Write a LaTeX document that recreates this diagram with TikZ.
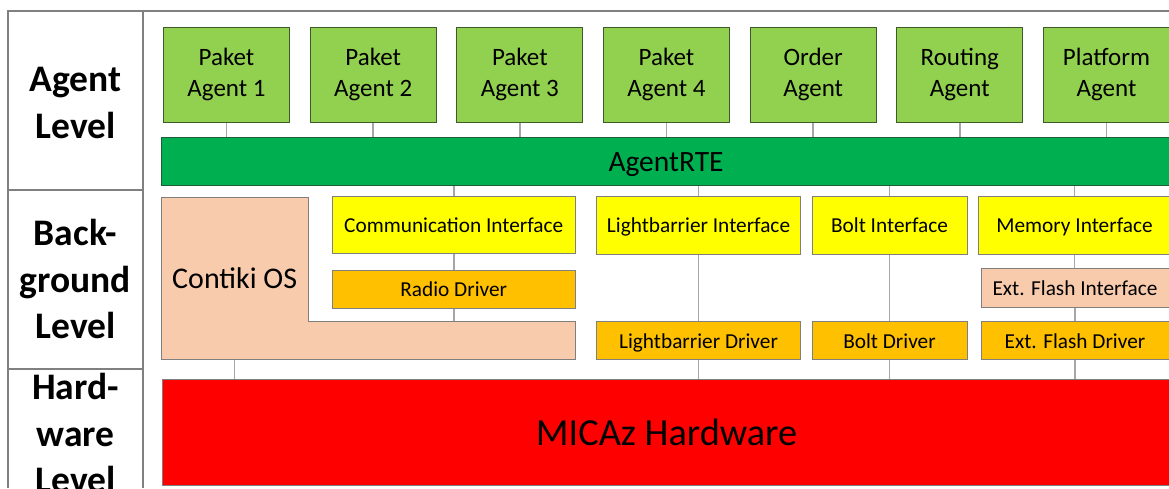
\documentclass[tikz,border=0pt]{standalone}
\usepackage{fontspec}
\setmainfont{Carlito}
\definecolor{agentgreen}{HTML}{92D050}
\definecolor{agentborder}{HTML}{3F5A2A}
\definecolor{rtegreen}{HTML}{00B050}
\definecolor{rteborder}{HTML}{1F5C3A}
\definecolor{ifyellow}{HTML}{FFFF00}
\definecolor{drvorange}{HTML}{FFC000}
\definecolor{peach}{HTML}{F8CBAD}
\definecolor{hwred}{HTML}{FF0000}
\definecolor{boxborder}{HTML}{7F7F7F}
\definecolor{conngray}{HTML}{A6A6A6}
\definecolor{tablegray}{HTML}{808080}
\begin{document}
\begin{tikzpicture}[x=1pt,y=-1pt,
  agent/.style={draw=agentborder, fill=agentgreen, line width=1pt, anchor=north west,
    minimum width=126pt, minimum height=95pt, inner sep=0pt, align=center,
    font=\fontsize{25}{31}\selectfont},
  plainbox/.style={draw=boxborder, line width=1pt, anchor=north west, inner sep=0pt,
    text height=15.3pt, text depth=0.5pt,
    font=\fontsize{21.3}{26}\selectfont},
  iface/.style={plainbox, fill=ifyellow, minimum height=58pt},
  drv/.style={plainbox, fill=drvorange, minimum height=38pt},
  conn/.style={draw=conngray, line width=1.5pt},
  tableline/.style={draw=tablegray, line width=1.5pt},
  levellabel/.style={font=\bfseries\fontsize{37.5}{46.5}\selectfont, align=center}
]
\useasboundingbox (0,0) rectangle (1169,488);
\clip (0,0) rectangle (1169,488);

% left table
\draw[tableline] (8,488) -- (8,11) -- (1169,11);
\draw[tableline] (143,11) -- (143,488);
\draw[tableline] (8,190) -- (143,190);
\draw[tableline] (8,369) -- (143,369);
\node[levellabel] (lagent) at (75.5,103) {Agent\\Level};
\node[levellabel] (lback) at (75.5,279) {Back-\\ground\\Level};
\node[levellabel] (lhw) at (75.5,433) {Hard-\\ware\\Level};

% agents
\node[agent] (a1) at (163,27) {Paket\strut\\Agent 1\strut};
\node[agent] (a2) at (309.7,27) {Paket\strut\\Agent 2\strut};
\node[agent] (a3) at (456.3,27) {Paket\strut\\Agent 3\strut};
\node[agent] (a4) at (603,27) {Paket\strut\\Agent 4\strut};
\node[agent] (a5) at (749.7,27) {Order\strut\\Agent\strut};
\node[agent] (a6) at (896.3,27) {Routing\strut\\Agent\strut};
\node[agent] (a7) at (1043,27) {Platform\strut\\Agent\strut};

% AgentRTE
\node[draw=rteborder, fill=rtegreen, line width=1pt, anchor=north west, inner sep=0pt,
  minimum width=1009pt, minimum height=48pt, text height=21pt, text depth=0.7pt,
  font=\fontsize{29.5}{34}\selectfont]
  (rte) at (161,137) {AgentRTE};

% Contiki OS (L shape)
\filldraw[fill=peach, draw=boxborder, line width=1pt]
  (161,197) -- (308,197) -- (308,321) -- (575,321) -- (575,359.5) -- (161,359.5) -- cycle;
\node[anchor=north west, inner sep=0pt, minimum width=147pt, minimum height=162.5pt,
  text height=21.5pt, text depth=0.7pt,
  font=\fontsize{30}{35}\selectfont] (contiki) at (161,197) {Contiki OS};
\node[anchor=north west, inner sep=0pt, minimum width=267pt, minimum height=38.5pt]
  (contikibase) at (308,321) {};

% interfaces
\node[iface, minimum width=242.5pt, minimum height=57pt] (comm) at (332,196) {Communication Interface};
\node[iface, minimum width=204pt] (lbi) at (596,195.5) {Lightbarrier Interface};
\node[iface, minimum width=155pt] (bolti) at (811.5,195.5) {Bolt Interface};
\node[iface, minimum width=192pt] (memi) at (978,195.5) {Memory Interface};

% drivers
\node[drv, minimum width=242.5pt] (radio) at (332,270) {Radio Driver};
\node[plainbox, fill=peach, minimum width=188pt, minimum height=39pt] (extfi) at (980.5,268) {Ext. Flash Interface};
\node[drv, minimum width=204pt] (lbd) at (596,321.3) {Lightbarrier Driver};
\node[drv, minimum width=155pt] (boltd) at (811.5,321.3) {Bolt Driver};
\node[drv, minimum width=188pt] (extfd) at (980.5,321.3) {Ext. Flash Driver};

% hardware
\node[draw=boxborder, fill=hwred, line width=1pt, anchor=north west, inner sep=0pt,
  minimum width=1008pt, minimum height=106pt, text height=27.5pt, text depth=1pt,
  font=\fontsize{38.3}{44}\selectfont]
  (hw) at (162,379) {MICAz Hardware};

% connectors
\foreach \a in {a1,a2,a3,a4,a5,a6,a7}
  \draw[conn] (\a.south) -- (\a.south |- rte.north);
\foreach \b in {comm,lbi,bolti,memi}
  \draw[conn] (\b.north |- rte.south) -- (\b.north);
\draw[conn] (comm.south) -- (radio.north);
\draw[conn] (radio.south) -- (radio.south |- contikibase.north);
\draw[conn] (lbi.south) -- (lbd.north);
\draw[conn] (bolti.south) -- (boltd.north);
\draw[conn] (memi.south) -- (memi.south |- extfi.north);
\draw[conn] (extfi.south) -- (extfi.south |- extfd.north);
\draw[conn] (contiki.south) -- (contiki.south |- hw.north);
\foreach \d in {lbd,boltd,extfd}
  \draw[conn] (\d.south) -- (\d.south |- hw.north);
\end{tikzpicture}
\end{document}
